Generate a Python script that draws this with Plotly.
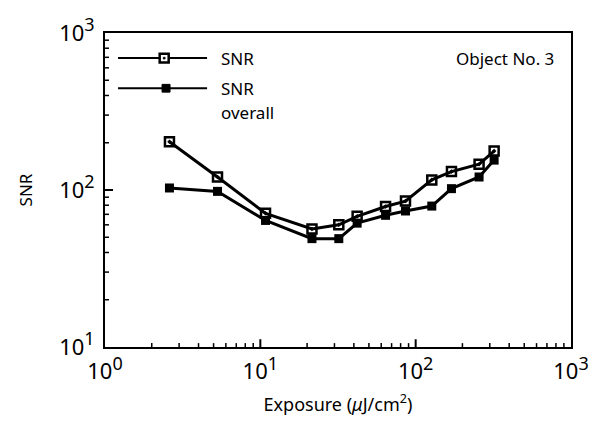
import math
import plotly.graph_objects as go

# Data
exposure = [2.6, 5.3, 10.8, 21.5, 32, 42, 64, 86, 127, 170, 256, 320]
snr = [203, 121, 71, 56.5, 60, 68, 78.5, 85, 116, 131, 146, 177]
snr_overall = [103, 98, 64, 49, 49, 61.5, 69, 73.5, 79, 102, 121, 155]

SUP = "<sup><span style='font-size:18px'>{}</span></sup>"
x_tickvals = [1, 10, 100, 1000]
x_ticktext = ["10" + SUP.format(e) for e in ["0", "1", "2", "3"]]
y_tickvals = [10, 100, 1000]
y_ticktext = ["10" + SUP.format(e) for e in ["1", "2", "3"]]
x_minor = [m * 10 ** d for d in range(0, 3) for m in range(2, 10)]
y_minor = [m * 10 ** d for d in range(1, 3) for m in range(2, 10)]

X_RANGE = [0, 3]
Y_RANGE = [1, 3]

FONT = "Noto Sans"
PW, PH = 466.0, 324.0  # plot area size in px

fig = go.Figure()
fig.add_trace(go.Scatter(
    x=exposure, y=snr, mode="lines+markers", name="SNR",
    line=dict(color="black", width=3),
    marker=dict(symbol="square-open-dot", size=9, color="black", line=dict(width=2.5)),
    showlegend=False))
fig.add_trace(go.Scatter(
    x=exposure, y=snr_overall, mode="lines+markers", name="SNR overall",
    line=dict(color="black", width=3),
    marker=dict(symbol="square", size=9, color="black"),
    showlegend=False))


# axis tick marks (inside), positioned from the axis ranges
def xfrac(v):
    return (math.log10(v) - X_RANGE[0]) / (X_RANGE[1] - X_RANGE[0])


def yfrac(v):
    return (math.log10(v) - Y_RANGE[0]) / (Y_RANGE[1] - Y_RANGE[0])


for vals, ln, w in [(x_tickvals[1:-1], 8, 2), (x_minor, 4, 1.5)]:
    for v in vals:
        f = xfrac(v)
        fig.add_shape(type="line", xref="paper", yref="paper", x0=f, x1=f, y0=0, y1=ln / PH,
                      line=dict(color="black", width=w))
for vals, ln, w in [(y_tickvals[1:-1], 8, 2), (y_minor, 4, 1.5)]:
    for v in vals:
        f = yfrac(v)
        fig.add_shape(type="line", xref="paper", yref="paper", x0=0, x1=ln / PW, y0=f, y1=f,
                      line=dict(color="black", width=w))

# hand-drawn legend (paper coords = plot area)
LY1, LY2, LY3 = 0.92, 0.824, 0.747


def square(cx, cy, s, **kw):
    fig.add_shape(type="rect", xref="paper", yref="paper",
                  x0=cx - s / 2 / PW, x1=cx + s / 2 / PW, y0=cy - s / 2 / PH, y1=cy + s / 2 / PH, **kw)


for ly, mx, filled in [(LY1, 0.127, False), (LY2, 0.131, True)]:
    fig.add_shape(type="line", xref="paper", yref="paper", x0=0.028, x1=0.219, y0=ly, y1=ly,
                  line=dict(color="black", width=2))
    if filled:
        square(mx, ly, 8, fillcolor="black", line=dict(color="black", width=1))
    else:
        square(mx, ly, 9, fillcolor="white", line=dict(color="black", width=2.5))
        square(mx, ly, 2, fillcolor="black", line=dict(color="black", width=0.5))

for y, t, xx, anchor in [(LY1, "SNR", 0.245, "left"), (LY2, "SNR", 0.245, "left"),
                         (LY3, "overall", 0.245, "left"), (LY1, "Object No. 3", 0.968, "right")]:
    fig.add_annotation(xref="paper", yref="paper", x=xx, y=y, text=t, showarrow=False,
                       xanchor=anchor, yanchor="middle", font=dict(size=17, color="black", family=FONT))

axis_common = dict(
    type="log", showgrid=False, zeroline=False, showline=True, linecolor="black", linewidth=2,
    mirror=True, ticks="", ticklabelstandoff=4,
    tickfont=dict(size=22, color="black", family=FONT),
)

fig.update_layout(
    width=602, height=437,
    margin=dict(l=105, r=31, t=23, b=90),
    paper_bgcolor="white", plot_bgcolor="white",
    font=dict(family=FONT, color="black"),
    xaxis=dict(axis_common, range=X_RANGE, tickmode="array", tickvals=x_tickvals, ticktext=x_ticktext,
               title=dict(text="Exposure (<i>\u03bc</i>J/cm<sup>2</sup>)", font=dict(size=18), standoff=14)),
    yaxis=dict(axis_common, range=Y_RANGE, tickmode="array", tickvals=y_tickvals, ticktext=y_ticktext,
               title=dict(text="SNR", font=dict(size=17), standoff=22)),
)

fig.write_html("out.html")
